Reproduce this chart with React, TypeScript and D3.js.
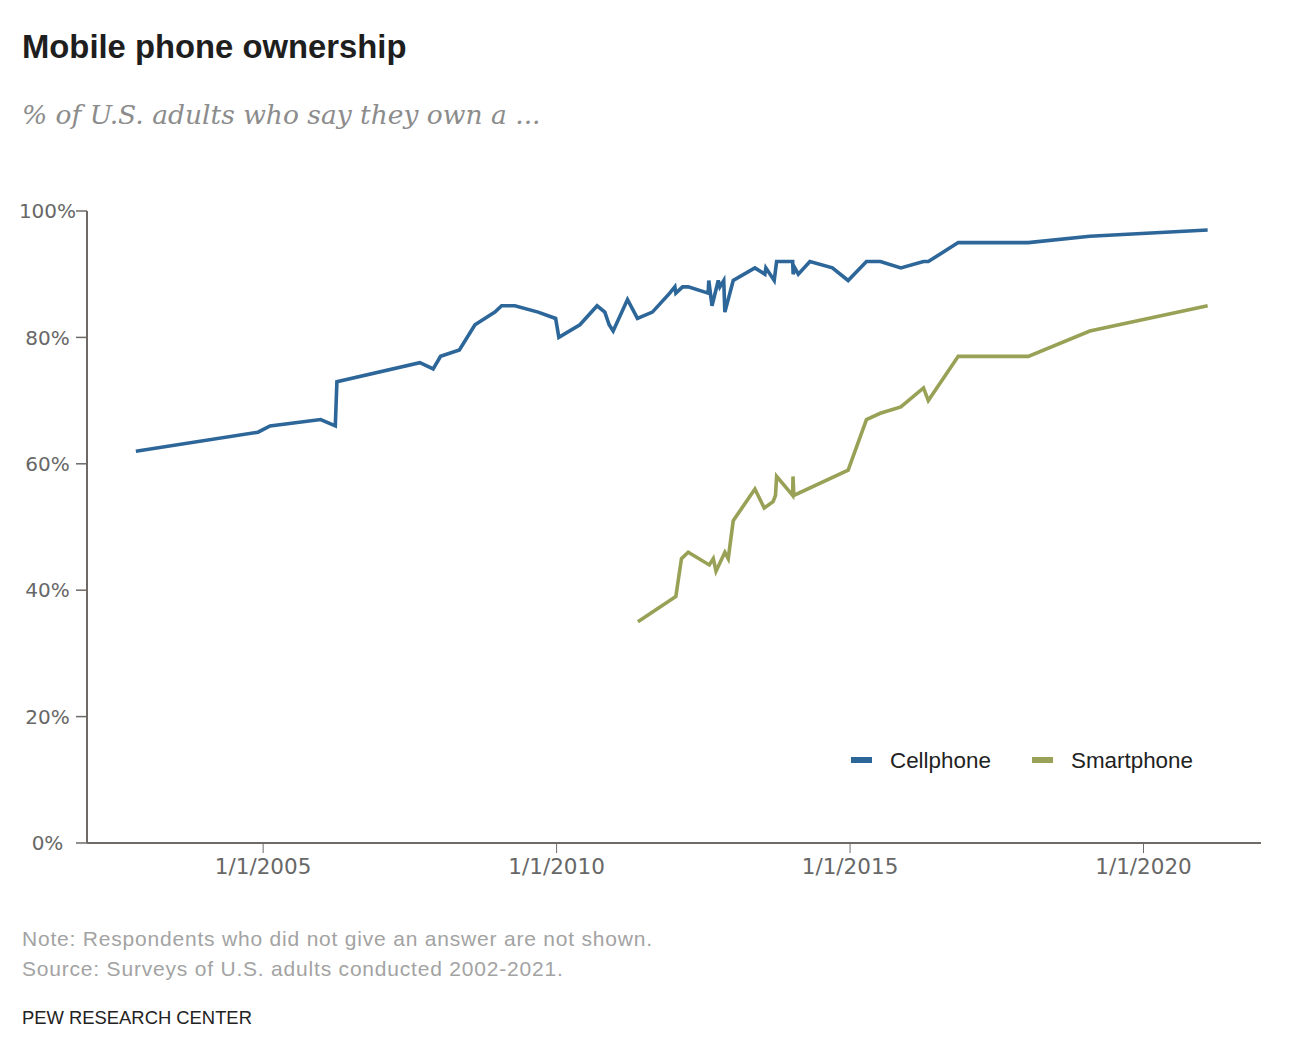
import React from "react";
import * as d3 from "d3";

// ---- Data ----
const cellphoneDates = [
  "2002-11-01", "2004-11-30", "2005-02-13", "2005-12-25", "2006-03-26", "2006-04-05",
  "2007-09-03", "2007-11-25", "2008-01-10", "2008-05-06", "2008-08-11", "2008-12-13",
  "2009-01-24", "2009-04-16", "2009-09-08", "2009-12-26", "2010-01-15", "2010-05-26",
  "2010-09-10", "2010-10-28", "2010-11-24", "2010-12-19", "2011-03-18", "2011-05-19",
  "2011-08-20", "2011-12-06", "2012-01-07", "2012-01-13", "2012-02-24", "2012-03-30",
  "2012-08-01", "2012-08-05", "2012-08-25", "2012-10-03", "2012-10-13", "2012-11-06",
  "2012-11-13", "2013-01-04", "2013-05-19", "2013-07-20", "2013-07-26", "2013-09-16",
  "2013-10-01", "2014-01-09", "2014-01-12", "2014-01-22", "2014-02-13", "2014-04-26",
  "2014-09-13", "2014-12-20", "2015-04-13", "2015-07-09", "2015-11-13", "2016-04-02",
  "2016-05-02", "2016-11-04", "2018-01-14", "2019-02-01", "2021-02-03",
];
const cellphoneValues = [
  62, 65, 66, 67, 66, 73,
  76, 75, 77, 78, 82, 84,
  85, 85, 84, 83, 80, 82,
  85, 84, 82, 81, 86, 83,
  84, 87, 88, 87, 88, 88,
  87, 89, 85, 89, 88, 89,
  84, 89, 91, 90, 91, 89,
  92, 92, 90, 91, 90, 92,
  91, 89, 92, 92, 91, 92,
  92, 95, 95, 96, 97,
];

const smartphoneDates = [
  "2011-05-22", "2012-01-13", "2012-02-17", "2012-03-30", "2012-08-08", "2012-09-02",
  "2012-09-19", "2012-11-13", "2012-12-04", "2013-01-04", "2013-05-19", "2013-07-16",
  "2013-09-09", "2013-09-24", "2013-10-01", "2014-01-09", "2014-01-11", "2014-01-16",
  "2014-12-20", "2015-04-13", "2015-07-08", "2015-11-13", "2016-04-02", "2016-05-02",
  "2016-11-04", "2018-01-14", "2019-02-01", "2021-02-03",
];
const smartphoneValues = [
  35, 39, 45, 46, 44, 45,
  43, 46, 45, 51, 56, 53,
  54, 55, 58, 55, 58, 55,
  59, 67, 68, 69, 72, 70,
  77, 77, 81, 85,
];

const yTicks = [0, 20, 40, 60, 80, 100];
const xTickDates = ["2005-01-01", "2010-01-01", "2015-01-01", "2020-01-01"];
const xTickLabels = ["1/1/2005", "1/1/2010", "1/1/2015", "1/1/2020"];
const seriesNames = ["Cellphone", "Smartphone"];
const seriesColors = ["#2d6698", "#98a155"];

const title = "Mobile phone ownership";
const subtitle = "% of U.S. adults who say they own a ...";
const noteLine = "Note: Respondents who did not give an answer are not shown.";
const sourceLine = "Source: Surveys of U.S. adults conducted 2002-2021.";
const credit = "PEW RESEARCH CENTER";

const W = 1292;
const H = 1048;
const margin = { left: 87, right: 31, top: 211, bottom: 205 };

export default function App() {
  const parse = d3.utcParse("%Y-%m-%d");
  const x = d3
    .scaleUtc()
    .domain([parse("2002-01-01") as Date, parse("2022-01-01") as Date])
    .range([margin.left, W - margin.right]);
  const y = d3.scaleLinear().domain([0, 100]).range([H - margin.bottom, margin.top]);

  const makeSeries = (dates: string[], values: number[]) =>
    dates.map((d, i) => ({ date: parse(d) as Date, value: values[i] }));
  const series = [
    makeSeries(cellphoneDates, cellphoneValues),
    makeSeries(smartphoneDates, smartphoneValues),
  ];

  const line = d3
    .line<{ date: Date; value: number }>()
    .x((d) => x(d.date))
    .y((d) => y(d.value));

  const axisColor = "#6f6a66";
  const tickText = "#676767";
  const y0 = y(0);

  const legendX = [851, 1032];
  const legendY = 760;

  return (
    <svg
      width={W}
      height={H}
      style={{ position: "absolute", left: 0, top: 0, background: "#fff" }}
    >
      <rect x={0} y={0} width={W} height={H} fill="#fff" />
      <text
        x={22}
        y={58}
        fontFamily="Liberation Sans, Arial, sans-serif"
        fontWeight="bold"
        fontSize={32.8}
        fill="#1e1e1e"
      >
        {title}
      </text>
      <text
        x={22}
        y={124}
        fontFamily="DejaVu Serif, serif"
        fontStyle="italic"
        fontSize={26.5}
        fill="#8c8c8c"
      >
        {subtitle}
      </text>

      {/* y axis */}
      <line x1={margin.left} x2={margin.left} y1={y(100)} y2={y0} stroke={axisColor} strokeWidth={2} />
      {yTicks.map((t) => (
        <g key={t}>
          <line x1={margin.left - 11} x2={margin.left} y1={y(t)} y2={y(t)} stroke={axisColor} strokeWidth={1.5} />
          <text
            x={47.5}
            y={y(t)}
            dy="0.36em"
            textAnchor="middle"
            fontFamily="DejaVu Sans, sans-serif"
            fontSize={20}
            fill={tickText}
          >
            {t}%
          </text>
        </g>
      ))}

      {/* x axis */}
      <line x1={margin.left} x2={W - margin.right} y1={y0} y2={y0} stroke={axisColor} strokeWidth={2} />
      {xTickDates.map((d, i) => {
        const xx = x(parse(d) as Date);
        return (
          <g key={d}>
            <line x1={xx} x2={xx} y1={y0} y2={y0 + 10} stroke={axisColor} strokeWidth={1} />
            <text
              x={xx}
              y={874}
              textAnchor="middle"
              fontFamily="DejaVu Sans, sans-serif"
              fontSize={21.5}
              fill={tickText}
            >
              {xTickLabels[i]}
            </text>
          </g>
        );
      })}

      {/* lines */}
      {series.map((s, i) => (
        <path
          key={seriesNames[i]}
          d={line(s) || ""}
          fill="none"
          stroke={seriesColors[i]}
          strokeWidth={3.6}
          strokeLinejoin="miter"
        />
      ))}

      {/* legend */}
      {seriesNames.map((name, i) => (
        <g key={name}>
          <rect x={legendX[i]} y={legendY - 3} width={21} height={6} fill={seriesColors[i]} />
          <text
            x={legendX[i] + 39}
            y={legendY}
            dy="0.36em"
            fontFamily="Liberation Sans, Arial, sans-serif"
            fontSize={22.4}
            fill="#222"
          >
            {name}
          </text>
        </g>
      ))}

      {/* footer */}
      <text x={22} y={946} fontFamily="Liberation Sans, Arial, sans-serif" fontSize={21} letterSpacing={0.8} fill="#a3a3a3">
        {noteLine}
      </text>
      <text x={22} y={976} fontFamily="Liberation Sans, Arial, sans-serif" fontSize={21} letterSpacing={0.8} fill="#a3a3a3">
        {sourceLine}
      </text>
      <text x={22} y={1024} fontFamily="Liberation Sans, Arial, sans-serif" fontSize={18.4} fill="#222">
        {credit}
      </text>
    </svg>
  );
}
